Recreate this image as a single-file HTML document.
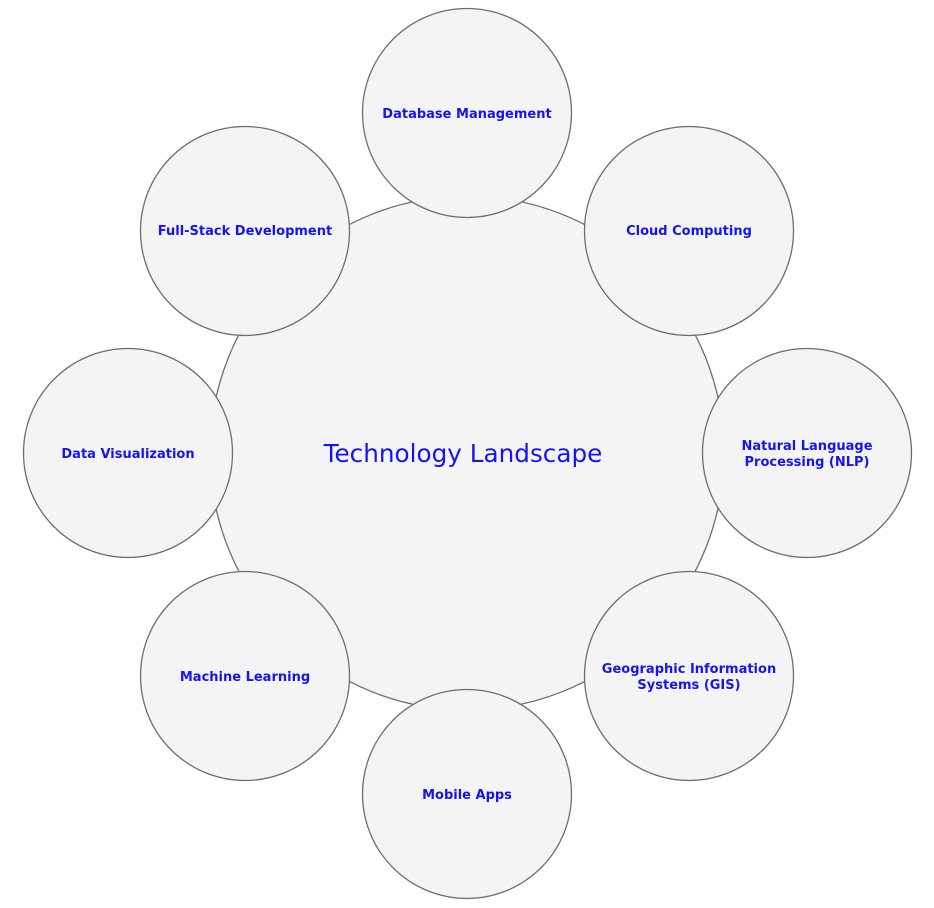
<!DOCTYPE html>
<html><head><meta charset="utf-8"><style>
html,body{margin:0;padding:0;background:#fff;}
svg{display:block}
text{font-family:"DejaVu Sans","Liberation Sans",sans-serif;fill:#1414f5;text-anchor:middle;}
.s{font-size:13px;font-weight:bold;}
</style></head><body>
<svg width="934" height="908" viewBox="0 0 934 908">
<g fill="#f4f4f4" stroke="#6e6e6e" stroke-width="1.3">
<circle cx="467" cy="453" r="257"/>
<circle cx="467" cy="113" r="104.5"/>
<circle cx="689" cy="231" r="104.5"/>
<circle cx="807" cy="453" r="104.5"/>
<circle cx="689" cy="676" r="104.5"/>
<circle cx="467" cy="794" r="104.5"/>
<circle cx="245" cy="676" r="104.5"/>
<circle cx="128" cy="453" r="104.5"/>
<circle cx="245" cy="231" r="104.5"/>
</g>
<text x="463" y="462" style="font-size:24.7px">Technology Landscape</text>
<text class="s" x="467" y="118">Database Management</text>
<text class="s" x="689" y="235">Cloud Computing</text>
<text class="s" x="807" y="450">Natural Language</text>
<text class="s" x="807" y="466">Processing (NLP)</text>
<text class="s" x="689" y="673">Geographic Information</text>
<text class="s" x="689" y="689">Systems (GIS)</text>
<text class="s" x="467" y="799">Mobile Apps</text>
<text class="s" x="245" y="681">Machine Learning</text>
<text class="s" x="128" y="458">Data Visualization</text>
<text class="s" x="245" y="235">Full-Stack Development</text>
</svg>
</body></html>
